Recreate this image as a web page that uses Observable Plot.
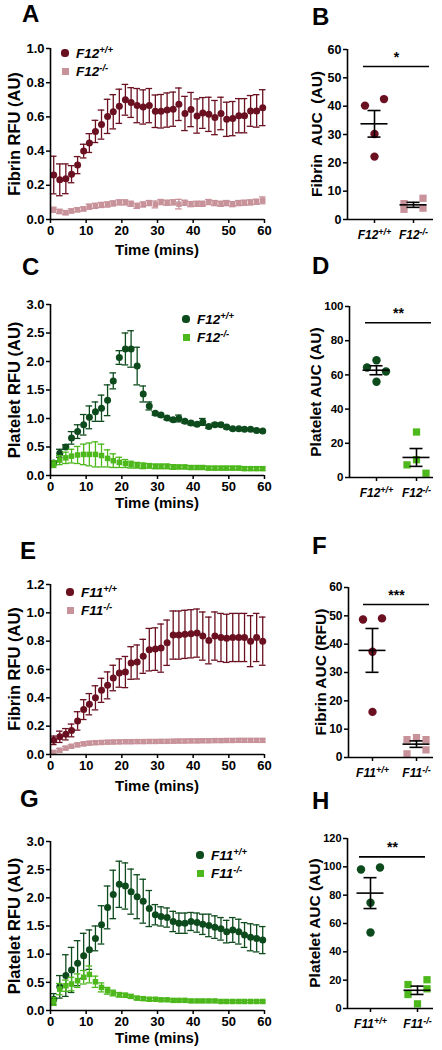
<!DOCTYPE html>
<html><head><meta charset="utf-8">
<script src="https://cdn.jsdelivr.net/npm/d3@7"></script>
<script src="https://cdn.jsdelivr.net/npm/@observablehq/plot@0.6"></script>
<style>
body{margin:0;background:#fff;}
#fig{position:relative;width:442px;height:1050px;overflow:hidden;font-family:'Liberation Sans',Arial,Helvetica,sans-serif;color:#000;background:#fff}
.pl{position:absolute;font-weight:bold;font-size:24px;line-height:1}
.yl{position:absolute;font-weight:bold;font-size:16.5px;white-space:pre;transform:translate(-50%,-50%) rotate(-90deg);line-height:1}
.yr{font-size:15.5px}
.xl{position:absolute;font-weight:bold;font-size:15px;transform:translate(-50%,-50%);white-space:nowrap;line-height:1}
.lg{position:absolute;font-weight:bold;font-style:italic;font-size:13.5px;white-space:nowrap;line-height:1}
.lg span{position:relative;top:-5px;font-size:9.5px}
.sym{position:absolute}
</style></head><body><div id="fig"></div>
<script>
// ---------- data ----------
const times = [0.9,2.6,4.3,5.9,7.6,9.3,10.9,12.6,14.3,16.0,17.6,19.3,21.0,22.6,24.3,26.0,27.7,29.4,31.0,32.7,34.4,36.0,37.7,39.4,41.1,42.7,44.4,46.1,47.8,49.4,51.1,52.8,54.4,56.1,57.8,59.5];

// A: fibrin, F12
const aWtMean = [0.26,0.232,0.238,0.265,0.318,0.40,0.447,0.515,0.555,0.603,0.63,0.662,0.70,0.684,0.666,0.658,0.666,0.633,0.633,0.64,0.645,0.674,0.62,0.643,0.605,0.623,0.615,0.596,0.62,0.586,0.59,0.607,0.607,0.635,0.635,0.654];
const aWtSem  = [0.11,0.093,0.087,0.05,0.05,0.04,0.055,0.065,0.085,0.1,0.1,0.1,0.09,0.087,0.1,0.1,0.1,0.095,0.098,0.1,0.1,0.095,0.1,0.1,0.1,0.09,0.1,0.1,0.095,0.1,0.1,0.1,0.1,0.09,0.095,0.105];
const aKoMean = [0.057,0.047,0.04,0.05,0.057,0.062,0.075,0.08,0.085,0.088,0.094,0.1,0.1,0.092,0.08,0.088,0.096,0.088,0.102,0.098,0.1,0.09,0.098,0.09,0.092,0.092,0.102,0.096,0.092,0.096,0.09,0.096,0.098,0.1,0.104,0.112];
const aKoSem  = [0.015,0.012,0.012,0.012,0.012,0.012,0.015,0.015,0.015,0.015,0.015,0.015,0.015,0.015,0.015,0.015,0.015,0.02,0.015,0.015,0.015,0.028,0.015,0.015,0.015,0.015,0.015,0.015,0.015,0.015,0.015,0.015,0.015,0.015,0.015,0.02];

// C: platelet, F12
const cWtMean = [0.22,0.39,0.50,0.66,0.77,0.89,1.02,1.12,1.18,1.32,1.66,2.07,2.22,2.22,1.92,1.43,1.22,1.09,1.06,1.01,0.98,1.0,0.95,0.92,0.90,0.94,0.86,0.89,0.89,0.85,0.82,0.82,0.81,0.81,0.79,0.78];
const cWtSem  = [0.04,0.07,0.04,0.11,0.12,0.18,0.2,0.17,0.23,0.27,0.14,0.12,0.28,0.32,0.33,0.14,0.07,0.03,0.03,0.03,0.03,0.06,0.03,0.03,0.03,0.06,0.03,0.03,0.03,0.03,0.02,0.02,0.02,0.02,0.02,0.02];
const cKoMean = [0.2,0.27,0.31,0.34,0.36,0.37,0.37,0.37,0.35,0.30,0.26,0.23,0.21,0.19,0.18,0.17,0.17,0.16,0.16,0.16,0.15,0.15,0.15,0.14,0.14,0.14,0.13,0.13,0.13,0.13,0.13,0.13,0.12,0.12,0.12,0.12];
const cKoSem  = [0.06,0.08,0.1,0.12,0.15,0.18,0.2,0.22,0.2,0.15,0.12,0.09,0.07,0.06,0.05,0.05,0.04,0.04,0.04,0.04,0.04,0.03,0.03,0.03,0.03,0.03,0.03,0.03,0.03,0.03,0.03,0.03,0.03,0.03,0.03,0.03];

// E: fibrin, F11
const eWtMean = [0.10,0.125,0.143,0.17,0.237,0.317,0.355,0.40,0.453,0.488,0.54,0.575,0.582,0.646,0.653,0.693,0.74,0.744,0.751,0.789,0.843,0.843,0.848,0.852,0.857,0.836,0.805,0.836,0.826,0.82,0.826,0.826,0.826,0.80,0.826,0.80];
const eWtSem  = [0.03,0.04,0.04,0.045,0.065,0.07,0.075,0.085,0.085,0.095,0.09,0.1,0.11,0.115,0.12,0.12,0.15,0.15,0.17,0.16,0.17,0.17,0.17,0.17,0.17,0.17,0.165,0.17,0.17,0.17,0.17,0.17,0.17,0.18,0.17,0.17];
const eKoMean = [0.015,0.03,0.045,0.058,0.068,0.075,0.08,0.083,0.085,0.087,0.088,0.089,0.09,0.09,0.091,0.091,0.092,0.092,0.093,0.093,0.094,0.095,0.095,0.096,0.096,0.097,0.097,0.098,0.098,0.099,0.099,0.1,0.1,0.1,0.1,0.1];
const eKoSem  = [0.012,0.012,0.012,0.012,0.012,0.012,0.012,0.012,0.012,0.012,0.012,0.012,0.012,0.012,0.012,0.012,0.012,0.012,0.012,0.012,0.012,0.012,0.012,0.012,0.012,0.012,0.012,0.012,0.012,0.012,0.012,0.012,0.012,0.012,0.012,0.012];

// G: platelet, F11
const gWtMean = [0.2,0.42,0.62,0.72,0.84,0.97,1.08,1.28,1.52,1.83,2.06,2.24,2.21,2.11,2.02,1.94,1.81,1.70,1.67,1.65,1.58,1.55,1.55,1.58,1.56,1.53,1.51,1.48,1.45,1.40,1.43,1.40,1.34,1.30,1.28,1.25];
const gWtSem  = [0.1,0.2,0.37,0.4,0.4,0.4,0.35,0.22,0.34,0.38,0.43,0.41,0.41,0.4,0.39,0.39,0.32,0.18,0.17,0.17,0.18,0.18,0.18,0.16,0.17,0.18,0.2,0.2,0.2,0.2,0.22,0.22,0.22,0.24,0.24,0.24];
const gKoMean = [0.16,0.38,0.44,0.47,0.53,0.59,0.64,0.51,0.41,0.35,0.31,0.28,0.27,0.25,0.22,0.21,0.2,0.2,0.19,0.19,0.18,0.18,0.18,0.17,0.17,0.17,0.17,0.17,0.16,0.16,0.16,0.16,0.16,0.16,0.16,0.16];
const gKoSem  = [0.07,0.1,0.1,0.12,0.12,0.12,0.15,0.1,0.08,0.06,0.05,0.04,0.035,0.03,0.03,0.03,0.025,0.025,0.02,0.02,0.02,0.02,0.02,0.02,0.02,0.02,0.02,0.02,0.02,0.02,0.02,0.02,0.02,0.02,0.02,0.02];

// AUC individual values
const bWt = [40.2,42.5,30.2,22.2], bKo = [7.5,5.6,4.0,3.6];
const dWt = [64.3,68.6,62.0,56.0], dKo = [26.6,10.4,7.4,2.5];
const fWt = [48.7,49.1,37.3,16.1], fKo = [6.3,7.0,6.3,2.7,1.3];
const hWt = [98.1,99.5,74.6,53.6], hKo = [20.3,16.9,13.9,9.9,3.3];

const genotypes = ["+/+","-/-"];
const darkRed = "#6b1020", pink = "#c8929a", darkGreen = "#0d4b1d", lightGreen = "#4cb81b";

// ---------- helpers ----------
const fig = document.getElementById("fig");
const STYLE = {fontFamily:"'Liberation Sans', Arial, Helvetica, sans-serif", fontSize:"12px", fontWeight:"bold", color:"#000", background:"none", overflow:"visible"};
function place(el,left,top){el.style.position="absolute";el.style.left=left+"px";el.style.top=top+"px";fig.appendChild(el);}
function addDiv(cls,html,left,top){const d=document.createElement("div");d.className=cls;d.innerHTML=html;d.style.left=left+"px";d.style.top=top+"px";fig.appendChild(d);return d;}
function errorBars(data,color,capHalf,sw){
  return [
    Plot.ruleX(data,{x:"x",y1:d=>d.m-d.s,y2:d=>d.m+d.s,stroke:color,strokeWidth:sw}),
    Plot.ruleY(data,{y:d=>d.m+d.s,x1:d=>d.x-capHalf,x2:d=>d.x+capHalf,stroke:color,strokeWidth:sw}),
    Plot.ruleY(data,{y:d=>d.m-d.s,x1:d=>d.x-capHalf,x2:d=>d.x+capHalf,stroke:color,strokeWidth:sw})
  ];
}
function legend(gene,x,y1,y2,c1,c2){
  const s1=document.createElement("div");s1.className="sym";
  Object.assign(s1.style,{left:(x-3.6)+"px",top:(y1-3.6)+"px",width:"7.2px",height:"7.2px",borderRadius:"50%",background:c1});fig.appendChild(s1);
  const s2=document.createElement("div");s2.className="sym";
  Object.assign(s2.style,{left:(x-3.5)+"px",top:(y2-3.5)+"px",width:"7px",height:"7px",background:c2});fig.appendChild(s2);
  addDiv("lg",gene+"<span>"+genotypes[0]+"</span>",x+11,y1-6);
  addDiv("lg",gene+"<span>"+genotypes[1]+"</span>",x+11,y2-6);
}

function timePanel(p){
  const L=50,R=264,W=285,mt=10,mb=34;
  const cap=3.3/((R-L)/60);
  const wt=times.map((t,i)=>({x:t,m:p.wtMean[i],s:p.wtSem[i]}));
  const ko=times.map((t,i)=>({x:t,m:p.koMean[i],s:p.koSem[i]}));
  const svg=Plot.plot({
    width:W,height:p.fh+mt+mb,marginLeft:L,marginRight:W-R,marginTop:mt,marginBottom:mb,
    style:STYLE,
    x:{domain:[0,60]},y:{domain:[0,p.yMax]},
    marks:[
      Plot.axisX({ticks:[0,10,20,30,40,50,60],tickSize:4,tickPadding:2,tickFormat:d3.format("d"),label:null,strokeWidth:1.5,fontSize:13}),
      Plot.axisY({ticks:p.yTicks,tickSize:4,tickPadding:2,tickFormat:d3.format(".1f"),label:null,strokeWidth:1.5,fontSize:13}),
      ...errorBars(wt,p.wtColor,cap,1.3),
      Plot.dot(wt,{x:"x",y:"m",r:3.5,fill:p.wtColor}),
      ...errorBars(ko,p.koColor,cap,1.3),
      Plot.dot(ko,{x:"x",y:"m",r:3.1,symbol:"square",fill:p.koColor}),
      Plot.ruleX([0],{strokeWidth:1.6}),
      Plot.ruleY([0],{strokeWidth:1.6})
    ]
  });
  place(svg,0,p.top-mt);
  addDiv("yl",p.yLabel,14,p.top+p.fh/2);
  addDiv("xl","Time (mins)",(L+R)/2,p.xLabelY);
  legend(p.gene,p.legX,p.legY,p.legY+18,p.wtColor,p.koColor);
}

function aucPanel(p){
  const SX=290,W=152,mt=10,mb=30;
  const u=p.p2-p.p1;
  const a=1-(p.p1-p.L)/u, b=2+(p.R-p.p2)/u;
  const toX=px=>1+(px-p.p1)/u;
  const pxY=p.fh/p.yMax;
  function swarm(vals,cat,spacing){
    const idx=vals.map((v,i)=>i).sort((i,j)=>vals[j]-vals[i]);
    const groups=[];let g=[idx[0]];
    for(let k=1;k<idx.length;k++){ if((vals[idx[k-1]]-vals[idx[k]])*pxY<9) g.push(idx[k]); else {groups.push(g);g=[idx[k]];} }
    groups.push(g);
    const out=[];
    for(const gr of groups){
      const seq=gr.length%2?[0,-1,1,0,-1,1]:[1,-1,1,-1,1,-1];
      gr.forEach((i,k)=>out.push({x:cat+seq[k]*spacing/u,v:vals[i]}));
    }
    return out;
  }
  const wtPts=swarm(p.wt,1,9.5), koPts=swarm(p.ko,2,9.5);
  const stats=[p.wt,p.ko].map((v,i)=>({x:i+1,m:d3.mean(v),s:d3.deviation(v)/Math.sqrt(v.length)}));
  const sx1=toX(p.sigPx[0]), sx2=toX(p.sigPx[1]);
  const svg=Plot.plot({
    width:W,height:p.fh+mt+mb,marginLeft:p.L-SX,marginRight:SX+W-p.R,marginTop:mt,marginBottom:mb,
    style:STYLE,
    x:{domain:[a,b]},y:{domain:[0,p.yMax]},
    marks:[
      Plot.axisX({ticks:[1,2],tickSize:4,tickPadding:7,tickFormat:()=>p.gene,label:null,strokeWidth:1.5,fontSize:12}),
      Plot.axisY({ticks:p.yTicks,tickSize:4,tickPadding:2,tickFormat:d3.format("d"),label:null,strokeWidth:1.5,fontSize:p.tickFont}),
      Plot.dot(wtPts,{x:"x",y:"v",r:4.2,fill:p.wtColor}),
      Plot.dot(koPts,{x:"x",y:"v",r:4.1,symbol:"square",fill:p.koColor}),
      Plot.ruleY(stats,{y:"m",x1:d=>d.x-13.5/u,x2:d=>d.x+13.5/u,strokeWidth:1.6}),
      ...errorBars(stats,"#000",6.5/u,1.6),
      Plot.ruleX([a],{strokeWidth:1.6}),
      Plot.ruleY([0],{strokeWidth:1.6}),
      Plot.ruleY([p.sigY],{x1:sx1,x2:sx2,strokeWidth:1.6}),
      Plot.text([p.sig],{x:(sx1+sx2)/2,y:p.sigY,dy:-9,fontSize:14,fontWeight:"bold",text:d=>d})
    ]
  });
  svg.querySelectorAll('[aria-label="x-axis tick label"] text').forEach((t,i)=>{
    t.textContent=p.gene; t.setAttribute("font-style","italic");
    const ts=document.createElementNS("http://www.w3.org/2000/svg","tspan");
    ts.setAttribute("dy","-4");ts.setAttribute("font-size","9");ts.textContent=genotypes[i];
    t.appendChild(ts);
  });
  place(svg,SX,p.top-mt);
  addDiv("yl yr",p.yLabel,p.ylx,p.top+p.fh/2);
}

// ---------- panels ----------
timePanel({top:48,fh:171,yMax:1.0,yTicks:[0,0.2,0.4,0.6,0.8,1.0],wtMean:aWtMean,wtSem:aWtSem,koMean:aKoMean,koSem:aKoSem,wtColor:darkRed,koColor:pink,yLabel:"Fibrin RFU (AU)",xLabelY:249,gene:"F12",legX:65,legY:53});
timePanel({top:304,fh:171,yMax:3.0,yTicks:[0,0.5,1,1.5,2,2.5,3],wtMean:cWtMean,wtSem:cWtSem,koMean:cKoMean,koSem:cKoSem,wtColor:darkGreen,koColor:lightGreen,yLabel:"Platelet RFU (AU)",xLabelY:502,gene:"F12",legX:186,legY:319});
timePanel({top:584,fh:170,yMax:1.2,yTicks:[0,0.2,0.4,0.6,0.8,1.0,1.2],wtMean:eWtMean,wtSem:eWtSem,koMean:eKoMean,koSem:eKoSem,wtColor:darkRed,koColor:pink,yLabel:"Fibrin RFU (AU)",xLabelY:785,gene:"F11",legX:70,legY:592});
timePanel({top:841,fh:169,yMax:3.0,yTicks:[0,0.5,1,1.5,2,2.5,3],wtMean:gWtMean,wtSem:gWtSem,koMean:gKoMean,koSem:gKoSem,wtColor:darkGreen,koColor:lightGreen,yLabel:"Platelet RFU (AU)",xLabelY:1037,gene:"F11",legX:200,legY:855});

aucPanel({top:49,fh:170,yMax:60,yTicks:[0,10,20,30,40,50,60],L:347,R:433,p1:374,p2:413,wt:bWt,ko:bKo,wtColor:darkRed,koColor:pink,gene:"F12",sig:"*",sigY:54,sigPx:[363,429],yLabel:"Fibrin  AUC  (AU)",ylx:317,tickFont:12.5});
aucPanel({top:306,fh:171,yMax:100,yTicks:[0,20,40,60,80,100],L:349,R:433,p1:376,p2:416,wt:dWt,ko:dKo,wtColor:darkGreen,koColor:lightGreen,gene:"F12",sig:"**",sigY:90.5,sigPx:[365,431],yLabel:"Platelet AUC (AU)",ylx:316,tickFont:11.5});
aucPanel({top:587,fh:170,yMax:60,yTicks:[0,10,20,30,40,50,60],L:348,R:433,p1:372,p2:416,wt:fWt,ko:fKo,wtColor:darkRed,koColor:pink,gene:"F11",sig:"***",sigY:54,sigPx:[363,429],yLabel:"Fibrin AUC (RFU)",ylx:321,tickFont:12});
aucPanel({top:838,fh:170,yMax:120,yTicks:[0,20,40,60,80,100,120],L:347,R:433,p1:370,p2:417,wt:hWt,ko:hKo,wtColor:darkGreen,koColor:lightGreen,gene:"F11",sig:"**",sigY:107,sigPx:[359,425],yLabel:"Platelet AUC (AU)",ylx:315,tickFont:11});

// panel letters
[["A",22,2],["B",312,5],["C",22,255],["D",312,254],["E",20,539],["F",312,534],["G",20,787],["H",312,789]]
  .forEach(([t,x,y])=>addDiv("pl",t,x,y));
</script></body></html>
